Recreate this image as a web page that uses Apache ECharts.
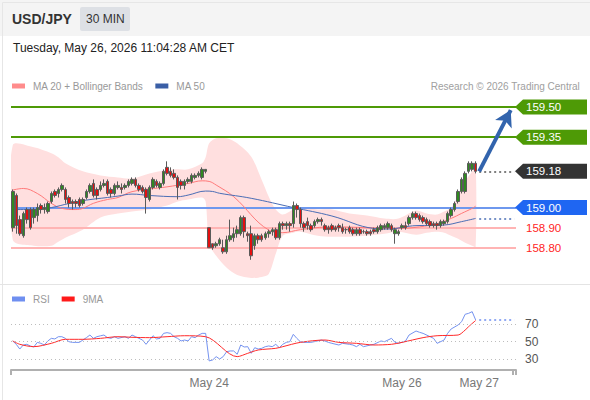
<!DOCTYPE html>
<html><head><meta charset="utf-8">
<script src="https://cdn.jsdelivr.net/npm/echarts@6/dist/echarts.min.js"></script>
<style>html,body{margin:0;padding:0;background:#fff}#c{width:590px;height:400px}</style>
</head><body><div id="c"></div>
<script>
// ---- data ----
const categoryCount = 144;
const dateTicks = [56, 111, 133];
const dateLabels = ['May 24', 'May 26', 'May 27'];
// [open, close, low, high]
const ohlc = [
[158.90,159.08,158.88,159.09],[159.06,158.91,158.87,159.07],[158.94,158.87,158.86,158.96],[158.86,158.97,158.85,158.98],
[158.99,158.94,158.92,159.00],[158.99,158.90,158.89,159.00],[158.95,158.99,158.92,159.00],[158.96,159.00,158.93,159.02],
[159.01,158.99,158.97,159.02],[158.99,159.00,158.97,159.02],[158.98,159.02,158.97,159.03],[159.03,159.07,159.02,159.08],
[159.08,159.06,159.05,159.09],[159.07,159.09,159.05,159.10],[159.09,159.11,159.08,159.12],[159.09,159.04,159.02,159.10],
[159.05,159.02,159.00,159.06],[159.03,159.02,158.99,159.04],[159.03,159.02,159.00,159.04],[159.04,159.01,159.00,159.05],
[159.02,159.04,159.01,159.05],[159.05,159.08,159.04,159.09],[159.08,159.11,159.07,159.12],[159.12,159.06,159.05,159.14],
[159.09,159.06,159.04,159.10],[159.09,159.11,159.08,159.13],[159.11,159.12,159.10,159.14],[159.13,159.07,159.06,159.14],
[159.09,159.07,159.05,159.10],[159.07,159.11,159.06,159.12],[159.10,159.11,159.09,159.13],[159.10,159.09,159.07,159.12],
[159.10,159.11,159.09,159.12],[159.11,159.13,159.10,159.14],[159.12,159.14,159.11,159.15],[159.14,159.11,159.10,159.15],
[159.11,159.09,159.08,159.12],[159.10,159.08,159.07,159.11],[159.09,159.05,158.97,159.10],[159.04,159.10,159.03,159.11],
[159.10,159.14,159.09,159.15],[159.13,159.11,159.10,159.14],[159.10,159.12,159.09,159.13],[159.12,159.18,159.11,159.19],
[159.20,159.17,159.16,159.23],[159.18,159.16,159.15,159.20],[159.17,159.15,159.14,159.19],[159.15,159.10,159.04,159.16],
[159.13,159.11,159.09,159.14],[159.11,159.13,159.09,159.14],[159.13,159.14,159.12,159.15],[159.13,159.16,159.12,159.17],
[159.15,159.16,159.14,159.17],[159.16,159.17,159.15,159.18],[159.15,159.19,159.14,159.20],[159.18,159.19,159.17,159.19],
[158.90,158.80,158.80,158.90],[158.82,158.80,158.79,158.82],[158.81,158.82,158.80,158.83],[158.82,158.84,158.81,158.85],
[158.80,158.78,158.77,158.84],[158.78,158.84,158.77,158.86],[158.84,158.86,158.83,158.94],[158.85,158.87,158.83,158.90],
[158.87,158.89,158.85,158.91],[158.87,158.95,158.86,158.96],[158.95,158.88,158.85,158.96],[158.87,158.86,158.83,158.88],
[158.87,158.76,158.74,158.91],[158.81,158.86,158.79,158.87],[158.86,158.84,158.82,158.87],[158.86,158.84,158.83,158.87],
[158.85,158.87,158.84,158.88],[158.87,158.88,158.85,158.89],[158.88,158.89,158.86,158.90],[158.89,158.85,158.84,158.90],
[158.85,158.92,158.84,158.93],[158.92,158.91,158.89,158.93],[158.91,158.92,158.89,158.93],[158.92,158.91,158.88,158.93],
[158.92,159.01,158.90,159.03],[159.01,158.99,158.95,159.02],
[158.99,158.92,158.90,159.00],[158.92,158.90,158.88,158.93],[158.93,158.91,158.89,158.95],[158.91,158.89,158.88,158.92],
[158.91,158.93,158.90,158.94],[158.93,158.94,158.92,158.95],[158.94,158.93,158.91,158.95],[158.91,158.89,158.88,158.92],
[158.90,158.89,158.87,158.91],[158.91,158.89,158.88,158.92],[158.90,158.89,158.88,158.91],[158.91,158.90,158.88,158.92],
[158.90,158.88,158.87,158.92],[158.89,158.89,158.87,158.90],[158.90,158.88,158.87,158.91],[158.89,158.87,158.86,158.90],
[158.87,158.89,158.86,158.90],[158.89,158.87,158.86,158.90],[158.88,158.88,158.87,158.89],[158.88,158.87,158.86,158.89],
[158.88,158.87,158.86,158.89],[158.89,158.88,158.87,158.90],[158.88,158.90,158.87,158.91],[158.89,158.91,158.88,158.92],
[158.90,158.91,158.89,158.92],[158.90,158.92,158.89,158.93],[158.91,158.89,158.88,158.92],[158.87,158.89,158.82,158.90],
[158.87,158.88,158.86,158.89],[158.90,158.91,158.89,158.92],[158.91,158.90,158.89,158.93],[158.92,158.95,158.91,158.96],
[158.95,158.97,158.94,158.98],[158.97,158.95,158.94,158.98],[158.96,158.94,158.93,158.97],[158.95,158.93,158.92,158.96],
[158.94,158.92,158.91,158.95],[158.93,158.91,158.90,158.94],[158.92,158.91,158.90,158.93],[158.92,158.91,158.89,158.93],
[158.91,158.93,158.90,158.94],[158.92,158.93,158.91,158.94],[158.93,158.97,158.92,158.98],[158.96,158.99,158.95,159.00],
[158.99,159.02,158.98,159.03],[159.03,159.08,159.02,159.09],[159.08,159.14,159.07,159.15],[159.08,159.17,159.07,159.18],
[159.18,159.22,159.17,159.23],[159.19,159.22,159.18,159.23],[159.22,159.18,159.17,159.23]
];
// [index, value]
const ma20Pts = [[0,159.087],[3,159.095],[7,159.07],[11,159.021],[14,158.996],[18,158.99],[20,158.996],[23,159.021],[27,159.04],[30,159.05],[34,159.079],[44,159.103],[50,159.12],[54,159.133],[56,159.13],[58,159.112],[63,159.054],[73,158.888],[77,158.875],[82,158.89],[91,158.904],[110,158.896],[116,158.904],[121,158.92],[125,158.946],[128,158.971],[131,158.996],[132,159.007]];
const ma50Pts = [[0,158.99],[6,158.99],[11,159.0],[16,159.02],[21,159.037],[27,159.05],[30,159.057],[34,159.067],[39,159.06],[47,159.054],[50,159.062],[55,159.082],[57,159.08],[59,159.071],[68,159.046],[80,159.0],[91,158.958],[103,158.896],[107,158.893],[114,158.909],[123,158.913],[128,158.93],[132,158.946]];
// [index, upper, lower]
const bandPts = [[0,159.31,158.84],[6,159.30,158.81],[11,159.27,158.81],[13,159.25,158.83],[15,159.22,158.85],[20,159.18,158.89],[25,159.16,158.95],[30,159.15,158.97],[34,159.145,158.98],[39,159.17,158.99],[44,159.187,159.01],[47,159.19,159.03],[50,159.19,159.04],[54,159.22,159.05],[55,159.25,159.03],[56,159.32,158.82],[58,159.345,158.76],[61,159.345,158.70],[64,159.32,158.665],[68,159.253,158.65],[71,159.137,158.655],[73,159.054,158.67],[75,158.99,158.77],[77,158.965,158.86],[80,158.99,158.875],[82,159.0,158.88],[87,158.99,158.86],[91,158.99,158.855],[96,158.97,158.855],[101,158.96,158.86],[106,158.945,158.87],[110,158.945,158.88],[115,158.985,158.865],[118,158.97,158.875],[121,158.965,158.88],[123,158.98,158.875],[125,159.00,158.86],[127,159.06,158.845],[129,159.13,158.825],[131,159.18,158.81],[132,159.21,158.805]];
const levelValues = [159.50, 159.35, 159.18, 159.00, 158.90, 158.80];
const levelKinds = ['res', 'res', 'last', 'pivot', 'sup', 'sup'];
const lastClose = 159.18, ma50Last = 158.946, target = 159.50;
const rsiPts = [[0,50.6],[1,46.8],[2,41.4],[3,46.0],[4,46.8],[5,44.9],[6,43.7],[7,49.0],[8,47.9],[9,46.0],[10,50.6],[11,53.6],[12,52.9],[13,55.5],[14,55.5],[15,53.6],[16,49.8],[17,49.0],[18,49.0],[19,49.0],[20,51.7],[21,54.4],[22,57.4],[23,53.6],[24,55.5],[25,56.5],[26,57.4],[27,54.4],[28,53.6],[29,55.5],[30,53.6],[32,55.5],[33,53.6],[34,57.4],[35,55.5],[36,53.6],[37,51.7],[38,46.8],[39,51.7],[40,56.6],[41,52.9],[42,53.6],[43,59.3],[44,60.1],[45,59.3],[46,55.5],[47,53.6],[48,50.6],[49,51.7],[50,50.6],[51,55.5],[52,54.4],[53,57.4],[54,59.3],[55,59.3],[56,27.8],[57,28.9],[58,32.7],[59,30.0],[60,32.7],[61,38.4],[62,39.2],[63,39.2],[64,35.4],[65,46.0],[66,43.7],[67,44.1],[68,36.5],[69,42.9],[70,41.4],[71,42.2],[72,44.1],[73,44.9],[74,44.1],[75,46.8],[76,42.9],[77,46.8],[78,49.0],[79,49.8],[80,58.2],[81,53.6],[82,49.8],[83,49.0],[85,49.0],[86,49.8],[88,51.7],[89,50.6],[90,49.0],[91,47.9],[93,46.0],[94,47.9],[96,46.8],[97,46.0],[98,44.1],[99,46.8],[100,44.1],[102,46.0],[103,46.8],[105,50.6],[106,49.8],[108,53.6],[109,49.0],[110,47.9],[112,50.6],[113,57.4],[115,62.0],[116,60.5],[117,59.3],[119,55.5],[120,53.6],[121,47.9],[123,51.7],[124,59.3],[125,64.3],[127,68.9],[128,72.7],[129,81.1],[130,82.2],[131,84.1],[132,74.6]];
const rsiMaPts = [[0,50.6],[2,46.8],[6,44.1],[11,47.9],[15,52.5],[20,52.5],[25,53.6],[30,55.5],[34,54.8],[39,54.4],[44,55.5],[49,56.6],[55,55.5],[64,32.7],[67,36.5],[70,40.3],[75,42.2],[77,44.1],[82,49.0],[89,51.7],[93,49.0],[98,47.9],[103,46.0],[108,46.8],[111,49.0],[117,54.4],[121,56.6],[127,57.4],[129,63.1],[130,67.0],[132,74.0]];
const rsiLevels = [30, 50, 70];
const rsiLast = 74.6;

// ---- chart ----
const FONT = 'Arial, Liberation Sans, sans-serif';
const categories = Array.from({length: categoryCount}, (_, i) => String(i));
const kindStyle = {
  res: {fill: '#4e9a06', text: '#fff', box: true},
  last: {fill: '#333333', text: '#fff', box: true},
  pivot: {fill: '#1f66f2', text: '#fff', box: true},
  sup: {fill: null, text: '#ff2626', box: false}
};
const lineStyleFor = {res: {color: '#4e9a06', width: 2}, pivot: {color: '#6e98ee', width: 2}, sup: {color: '#ffb4b4', width: 2}};

const chart = echarts.init(document.getElementById('c'), null, {renderer: 'svg'});
const option = {
  animation: false,
  backgroundColor: '#fff',
  title: [{
    text: 'Research © 2026 Trading Central', right: 10, top: 81, padding: 0,
    textStyle: {fontSize: 10, fontWeight: 'normal', color: '#a0a0a0', fontFamily: FONT}
  }],
  legend: [{
    left: 12, top: 81, padding: 0, itemWidth: 13, itemHeight: 5, itemGap: 12, selectedMode: false,
    textStyle: {color: '#999', fontSize: 10, fontFamily: FONT, padding: [0, 0, 0, 3]},
    data: [{name: 'MA 20 + Bollinger Bands', icon: 'rect', itemStyle: {color: '#ff8c8c'}},
           {name: 'MA 50', icon: 'rect', itemStyle: {color: '#3a5fa6'}}]
  }, {
    left: 12, top: 294, padding: 0, itemWidth: 13, itemHeight: 5, itemGap: 12, selectedMode: false,
    textStyle: {color: '#999', fontSize: 10, fontFamily: FONT, padding: [0, 0, 0, 3]},
    data: [{name: 'RSI', icon: 'rect', itemStyle: {color: '#6f8ff0'}},
           {name: '9MA', icon: 'rect', itemStyle: {color: '#ff1a1a'}}]
  }],
  graphic: [
    {type: 'rect', left: 0, top: 0, shape: {width: 590, height: 36}, style: {fill: '#f4f4f4'}, z: -10},
    {type: 'rect', left: 0, top: 0, shape: {width: 589, height: 399}, style: {fill: 'none', stroke: '#e6e6e6', lineWidth: 1}, z: -9},
    {type: 'rect', left: 80, top: 7, shape: {width: 50, height: 24, r: 2}, style: {fill: '#dde0e5'}},
    {type: 'text', left: 12, top: 12, style: {text: 'USD/JPY', font: 'bold 14px ' + FONT, fill: '#333'}},
    {type: 'text', left: 86, top: 13, style: {text: '30 MIN', font: '12px ' + FONT, fill: '#333'}},
    {type: 'text', left: 13, top: 42, style: {text: 'Tuesday, May 26, 2026 11:04:28 AM CET', font: '12px ' + FONT, fill: '#222'}},
    {type: 'line', shape: {x1: 0, y1: 284.5, x2: 590, y2: 284.5}, style: {stroke: '#e4e4e4', lineWidth: 1}}
  ],
  grid: [
    {left: 11, right: 74, top: 97, height: 190.95},
    {left: 11, right: 74, top: 306.5, height: 70}
  ],
  xAxis: [
    {type: 'category', gridIndex: 0, data: categories, show: false, boundaryGap: true},
    {type: 'category', gridIndex: 1, data: categories, boundaryGap: true, offset: -6.5,
     axisLine: {lineStyle: {color: '#b0b0b0', width: 2}},
     axisTick: {show: true, length: 5, interval: (i) => i === 0 || i === categoryCount - 1 || i === categoryCount, lineStyle: {color: '#b0b0b0', width: 2}},
     axisLabel: {interval: (i) => dateTicks.includes(i), formatter: (v, i) => dateLabels[dateTicks.indexOf(Number(v))] || '',
       color: '#777', fontSize: 12, margin: 7, fontFamily: FONT},
     splitLine: {show: false}}
  ],
  yAxis: [
    {type: 'value', gridIndex: 0, min: 158.6, max: 159.55, show: false, splitLine: {show: false}},
    {type: 'value', gridIndex: 1, min: 10, max: 90, interval: 20, position: 'right',
     axisLine: {show: false}, axisTick: {show: false}, splitLine: {show: false},
     axisLabel: {margin: 9, color: '#555', fontSize: 12, fontFamily: FONT,
       formatter: (v) => rsiLevels.includes(v) ? String(v) : ''}}
  ],
  series: [
    {
      type: 'custom', name: 'band', xAxisIndex: 0, yAxisIndex: 0, clip: true, z: 1, silent: true,
      data: [[0, bandPts[0][1]]],
      renderItem: (params, api) => {
        const up = bandPts.map(p => api.coord([p[0], p[1]]));
        const lo = bandPts.map(p => api.coord([p[0], p[2]])).reverse();
        return {type: 'polygon', shape: {points: up.concat(lo), smooth: 0.3}, style: {fill: '#ffdfdf'}};
      }
    },
    {
      type: 'line', name: 'MA 20 + Bollinger Bands', xAxisIndex: 0, yAxisIndex: 0, data: ma20Pts,
      smooth: 0.4, showSymbol: false, z: 3, color: '#ff8c8c', lineStyle: {color: '#ff7a7a', width: 1}, silent: true,
      markLine: {
        silent: true, symbol: 'none', label: {show: false}, z: 2,
        data: levelValues.map((v, i) => ({yAxis: v, kind: levelKinds[i]}))
          .filter(d => lineStyleFor[d.kind])
          .map(d => ({yAxis: d.yAxis, lineStyle: Object.assign({type: 'solid'}, lineStyleFor[d.kind])}))
      }
    },
    {
      type: 'line', name: 'MA 50', xAxisIndex: 0, yAxisIndex: 0, data: ma50Pts,
      smooth: 0.4, showSymbol: false, z: 3, color: '#3a5fa6', lineStyle: {color: '#4a6db5', width: 1}, silent: true,
      markLine: {
        silent: true, symbol: 'none', label: {show: false},
        data: [[{coord: [133, ma50Last]}, {coord: [categoryCount - 1, ma50Last]}]],
        lineStyle: {color: '#4a6db5', width: 1.5, type: [2, 3]}
      }
    },
    {
      type: 'candlestick', name: 'price', xAxisIndex: 0, yAxisIndex: 0, data: ohlc, z: 4,
      barWidth: 3, silent: true,
      itemStyle: {color: '#2f8a20', color0: '#e41010', borderColor: '#5a5a5a', borderColor0: '#5a5a5a', borderWidth: 1},
      markLine: {
        silent: true, label: {show: false},
        data: [
          [{coord: [133, lastClose], symbol: 'none', lineStyle: {color: '#555', width: 1.5, type: [2, 3]}},
           {coord: [categoryCount - 1, lastClose], symbol: 'none'}],
          [{coord: [133, lastClose], symbol: 'none', lineStyle: {color: '#3264ad', width: 4, type: 'solid'}},
           {coord: [142, target - 0.015], symbol: 'arrow', symbolSize: [14, 16]}]
        ]
      }
    },
    {
      type: 'custom', name: 'tags', xAxisIndex: 0, yAxisIndex: 0, clip: false, z: 10, silent: true,
      data: levelValues.map((v, i) => [0, v, i]),
      renderItem: (params, api) => {
        const val = api.value(1), k = levelKinds[api.value(2)], st = kindStyle[k];
        const y = api.coord([0, val])[1];
        const gx = params.coordSys.x + params.coordSys.width;
        const label = val.toFixed(2);
        const children = [];
        if (st.box) {
          children.push({type: 'polygon', shape: {points: [[gx - 1, y], [gx + 7, y - 7.5], [gx + 71, y - 7.5], [gx + 71, y + 7.5], [gx + 7, y + 7.5]]}, style: {fill: st.fill}});
        }
        children.push({type: 'text', x: gx + 10, y: y, style: {text: label, fill: st.text, font: '11.5px ' + FONT, verticalAlign: 'middle', align: 'left'}});
        return {type: 'group', children};
      }
    },
    {
      type: 'line', name: 'RSI', xAxisIndex: 1, yAxisIndex: 1, data: rsiPts, showSymbol: false, z: 3,
      color: '#6f8ff0', lineStyle: {color: '#7593f0', width: 1}, silent: true,
      markLine: {
        silent: true, symbol: 'none', label: {show: false},
        data: rsiLevels.map(v => ({yAxis: v, lineStyle: {color: '#bdbdbd', width: 1, type: [1, 3]}})).concat([
          [{coord: [133, rsiLast], lineStyle: {color: '#6f8ff0', width: 1.5, type: [2, 3]}}, {coord: [categoryCount - 1, rsiLast]}]
        ])
      }
    },
    {
      type: 'line', name: '9MA', xAxisIndex: 1, yAxisIndex: 1, data: rsiMaPts, showSymbol: false, smooth: 0.3, z: 4,
      color: '#ff1a1a', lineStyle: {color: '#ff2a2a', width: 1}, silent: true
    }
  ]
};
chart.setOption(option);
</script>
</body></html>
